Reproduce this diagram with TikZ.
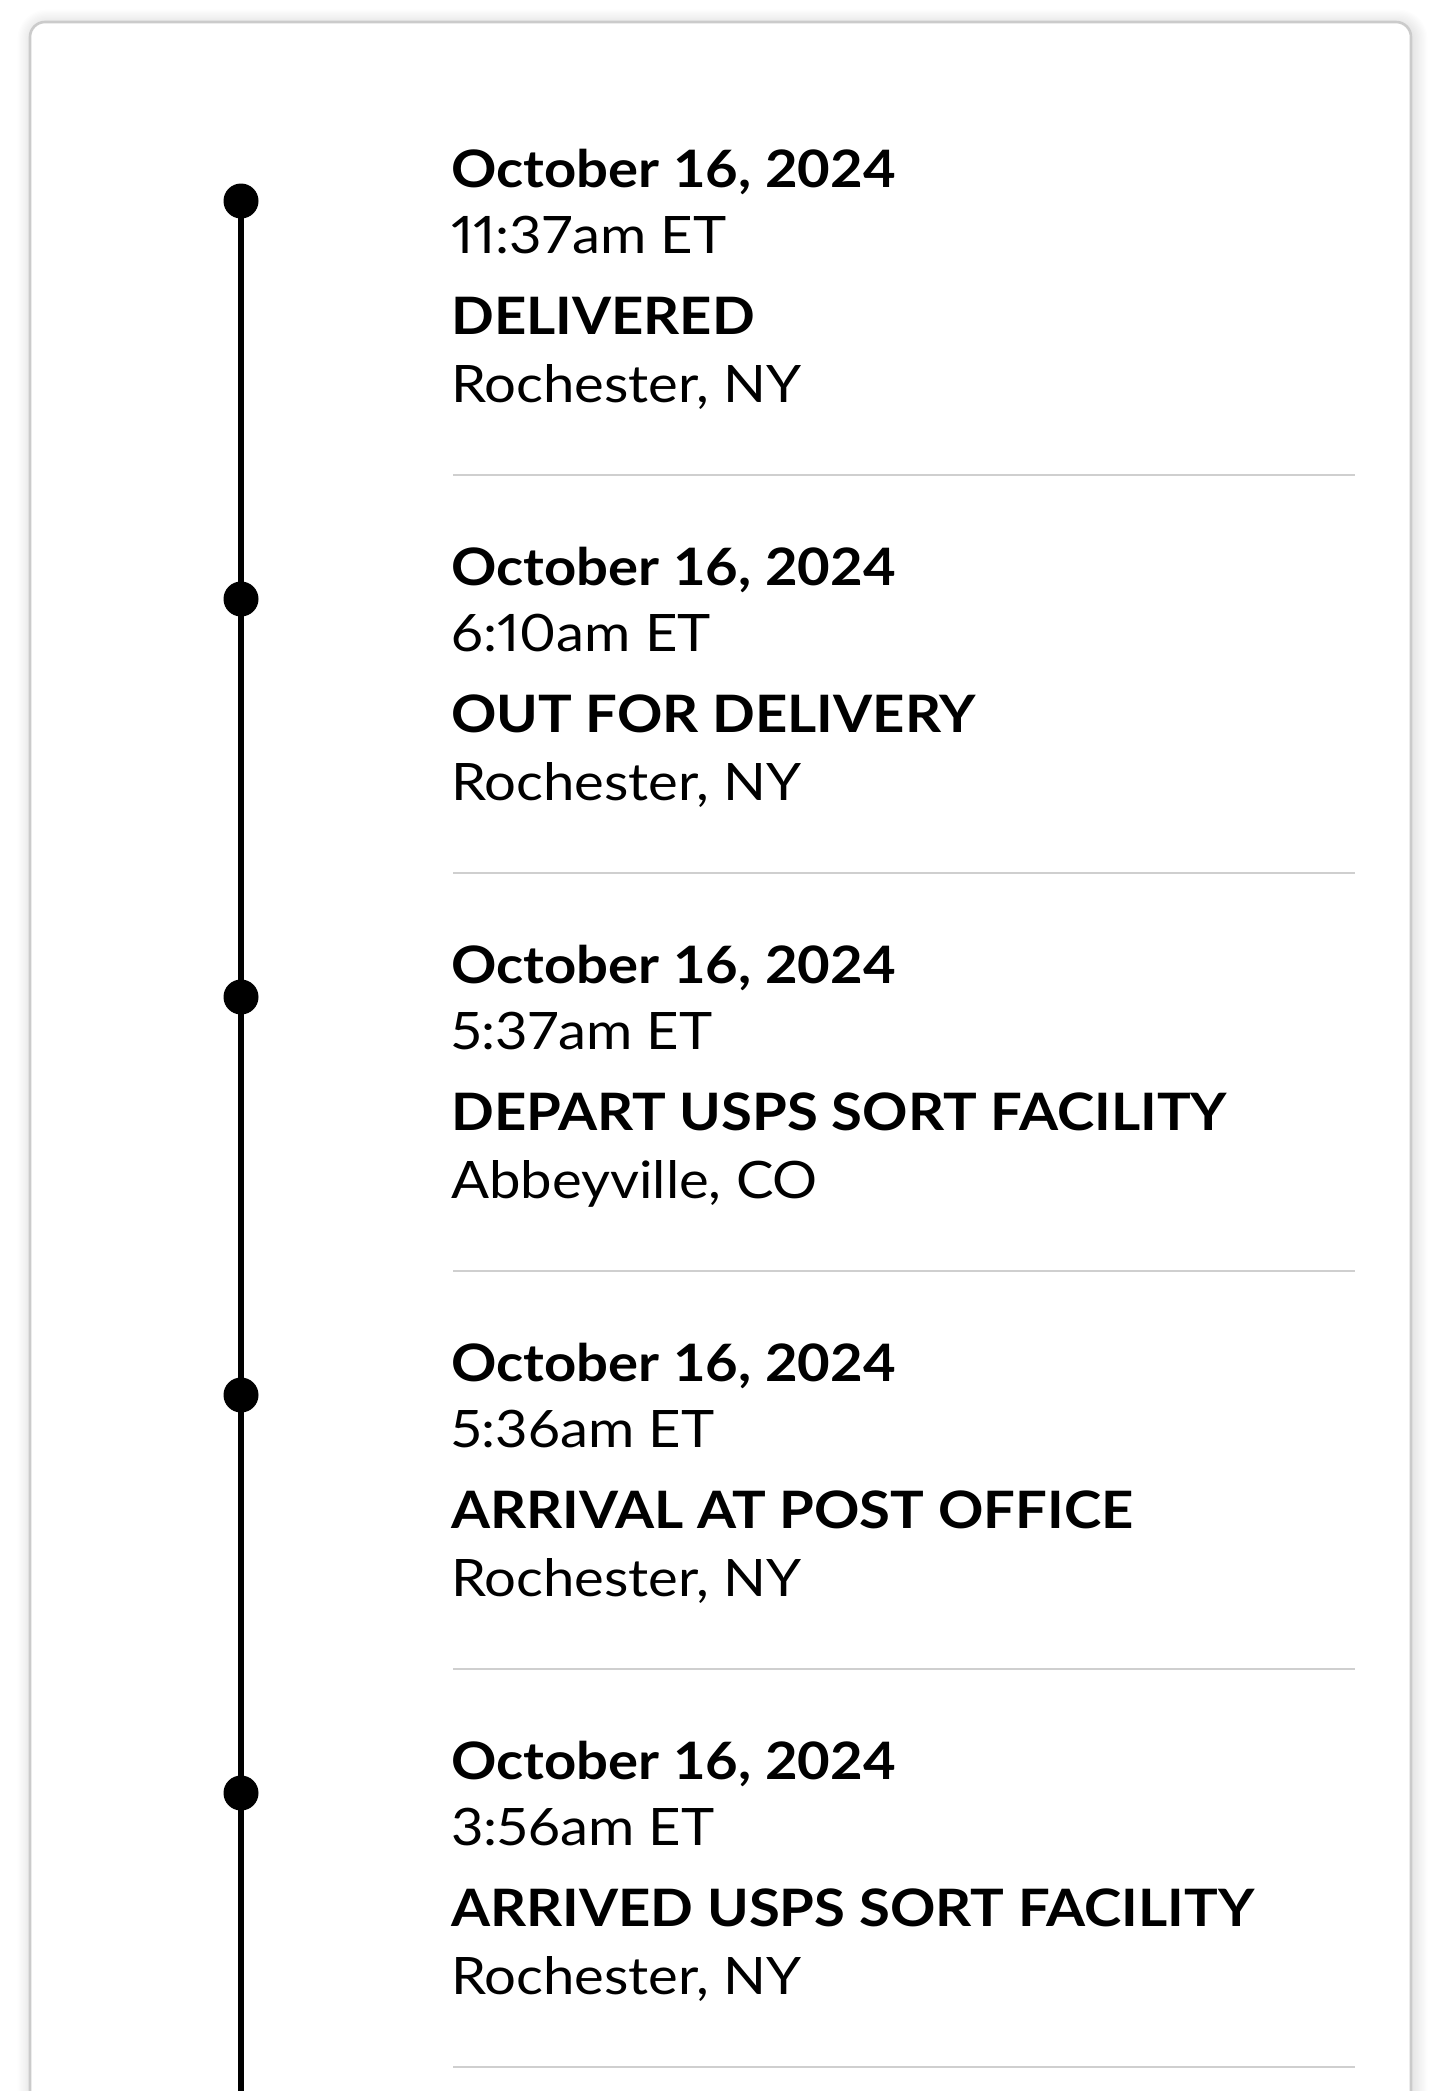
\documentclass[tikz,border=0pt]{standalone}
\usepackage{fontspec}
\setmainfont[FakeStretch=1.09]{Lato}
\newfontfamily\timefont[FakeStretch=1.09,Numbers=Proportional]{Lato}
\definecolor{cardline}{HTML}{CBCBCB}
\definecolor{sepline}{HTML}{CFCFCF}
\begin{document}
\begin{tikzpicture}[x=1pt,y=-1pt,
  dot/.style={circle,fill=black,minimum size=35pt,inner sep=0pt},
  rail/.style={line width=6pt,black},
  datetxt/.style={anchor=base west,inner sep=0pt,font=\fontsize{51.6}{60}\selectfont\bfseries},
  timetxt/.style={anchor=base west,inner sep=0pt,font=\timefont\fontsize{51.6}{60}\selectfont},
  stattxt/.style={anchor=base west,inner sep=0pt,font=\fontsize{51.6}{60}\selectfont\bfseries},
  loctxt/.style={anchor=base west,inner sep=0pt,font=\fontsize{51.6}{60}\selectfont},
  sep/.style={line width=2.6pt,sepline}]
\useasboundingbox (0,0) rectangle (1440,2091);
\clip (0,0) rectangle (1440,2091);
\fill[white] (0,0) rectangle (1440,2091);
% card shadow
\foreach \k in {1,...,12}
  \draw[line width=\k*2.4pt,black,opacity=0.009,rounded corners=15pt] (32,24) rectangle (1413,2200);
% card
\filldraw[fill=white,draw=cardline,line width=2.6pt,rounded corners=15pt] (30,22) rectangle (1411,2200);
% dots
\foreach \i in {0,...,4}
  \node[dot] (d\i) at (241,201+398*\i) {};
\coordinate (railend) at (241,2100);
\draw[rail] (d0.center) -- (d1.center) -- (d2.center) -- (d3.center) -- (d4.center) -- (railend);
% entries
\foreach \i/\t/\s/\l in {
  0/{11:37am ET}/{DELIVERED}/{Rochester, NY},
  1/{6:10am ET}/{OUT FOR DELIVERY}/{Rochester, NY},
  2/{5:37am ET}/{DEPART USPS SORT FACILITY}/{Abbeyville, CO},
  3/{5:36am ET}/{ARRIVAL AT POST OFFICE}/{Rochester, NY},
  4/{3:56am ET}/{ARRIVED USPS SORT FACILITY}/{Rochester, NY}}{
  \node[datetxt] (date\i) at (451,187+398*\i) {October 16, 2024};
  \node[timetxt] (time\i) at (451,253+398*\i) {\t};
  \node[stattxt] (stat\i) at (451,334+398*\i) {\s};
  \node[loctxt] (loc\i) at (451,402+398*\i) {\l};
  \draw[sep] (453,475+398*\i) -- (1355,475+398*\i);
}
\end{tikzpicture}
\end{document}
